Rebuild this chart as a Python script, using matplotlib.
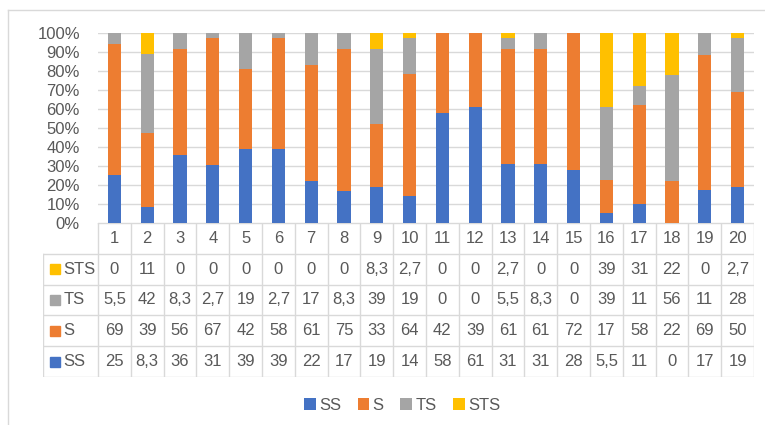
import numpy as np
import matplotlib
matplotlib.use('Agg')
import matplotlib.pyplot as plt
from matplotlib.patches import Patch
from matplotlib.lines import Line2D

plt.rcParams['font.family'] = ['Liberation Sans', 'DejaVu Sans']

# 数据
categories = [str(i) for i in range(1, 21)]
series_names = ['SS', 'S', 'TS', 'STS']
ss = [25, 8.3, 36, 31, 39, 39, 22, 17, 19, 14, 58, 61, 31, 31, 28, 5.5, 11, 0, 17, 19]
s = [69, 39, 56, 67, 42, 58, 61, 75, 33, 64, 42, 39, 61, 61, 72, 17, 58, 22, 69, 50]
ts = [5.5, 42, 8.3, 2.7, 19, 2.7, 17, 8.3, 39, 19, 0, 0, 5.5, 8.3, 0, 39, 11, 56, 11, 28]
sts = [0, 11, 0, 0, 0, 0, 0, 0, 8.3, 2.7, 0, 0, 2.7, 0, 0, 39, 31, 22, 0, 2.7]
colors = ['#4472C4', '#ED7D31', '#A5A5A5', '#FFC000']

W, H = 765, 425
txt_c = '#595959'
grid_c = '#d9d9d9'
fs = 12

fig = plt.figure(figsize=(W / 100, H / 100), dpi=100)

def px_axes(x0, y0, x1, y1):
    # 像素坐标 -> figure 坐标
    return fig.add_axes([x0 / W, 1 - y1 / H, (x1 - x0) / W, (y1 - y0) / H])

# 柱状图部分
ax = px_axes(98, 33, 754, 223)
data = np.array([ss, s, ts, sts], dtype=float)
pct = data / data.sum(axis=0) * 100
x = np.arange(len(categories))
bottom = np.zeros(len(categories))
for vals, name, c in zip(pct, series_names, colors):
    ax.bar(x, vals, 0.4, bottom=bottom, color=c, label=name, zorder=3)
    bottom += vals
ax.set_xlim(-0.5, len(categories) - 0.5)
ax.set_ylim(0, 100)
ax.set_yticks(np.arange(0, 101, 10))
ax.set_yticklabels([f'{v}%' for v in range(0, 101, 10)])
ax.tick_params(axis='y', length=0, pad=13, labelsize=fs, labelcolor=txt_c)
ax.set_xticks([])
ax.grid(axis='y', color=grid_c, linewidth=1, zorder=0)
for sp in ax.spines.values():
    sp.set_visible(False)

# 数据表
tab = px_axes(43, 223, 754, 377)
lab_w = (98 - 43) / ((754 - 98) / len(categories))
left = -0.5 - lab_w
tab.set_xlim(left, len(categories) - 0.5)
tab.set_ylim(5, 0)
tab.axis('off')
n = len(categories)
for k in range(n + 1):
    tab.plot([-0.5 + k, -0.5 + k], [0, 5], color=grid_c, lw=1)
tab.plot([left, left], [1, 5], color=grid_c, lw=1)
tab.plot([-0.5, n - 0.5], [0, 0], color=grid_c, lw=1)
for r in range(1, 6):
    tab.plot([left, n - 0.5], [r, r], color=grid_c, lw=1)
for i, c in enumerate(categories):
    tab.text(i, 0.5, c, ha='center', va='center', fontsize=fs, color=txt_c)

rows = [('STS', sts, colors[3]), ('TS', ts, colors[2]), ('S', s, colors[1]), ('SS', ss, colors[0])]
for r, (name, vals, c) in enumerate(rows, start=1):
    tab.plot(left + 0.38, r + 0.5, marker='s', markersize=6.5, color=c, linestyle='none')
    tab.text(left + 0.62, r + 0.5, name, ha='left', va='center', fontsize=fs, color=txt_c)
    for i, v in enumerate(vals):
        t = f'{v:g}'.replace('.', ',')
        tab.text(i, r + 0.5, t, ha='center', va='center', fontsize=fs, color=txt_c)

# 图例
handles = [Patch(facecolor=c, edgecolor='none') for c in colors]
fig.legend(handles, series_names, loc='center', bbox_to_anchor=(402 / W, 1 - 405 / H),
           ncol=4, frameon=False, fontsize=fs, labelcolor=txt_c,
           handlelength=0.7, handleheight=0.7, handletextpad=0.2, columnspacing=1.0)

# 图表外框（左边和上边）
fig.add_artist(Line2D([8 / W, 8 / W], [0, 1 - 10 / H], color=grid_c, lw=1))
fig.add_artist(Line2D([8 / W, 1], [1 - 10 / H, 1 - 10 / H], color=grid_c, lw=1))

fig.savefig('out.png', dpi=100)
